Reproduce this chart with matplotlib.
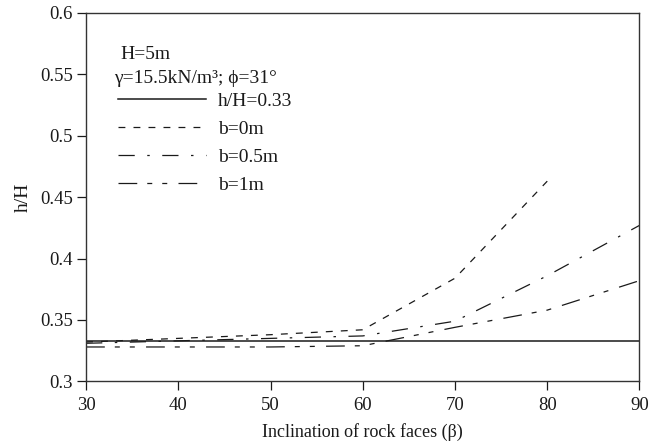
import matplotlib
matplotlib.use("Agg")
import matplotlib.pyplot as plt

# Inclination of the rock face (degrees)
beta = [30, 40, 50, 60, 70, 80, 90]
beta_b0 = [30, 40, 50, 60, 70, 80]

# Reference ratio h/H
h_ratio = 0.333

# h/H for different berm widths b
h_b0 = [0.332, 0.335, 0.338, 0.342, 0.384, 0.463]
h_b05 = [0.331, 0.333, 0.335, 0.337, 0.349, 0.386, 0.427]
h_b1 = [0.328, 0.328, 0.328, 0.329, 0.344, 0.358, 0.382]

x_ticks = [30, 40, 50, 60, 70, 80, 90]
y_ticks = [0.3, 0.35, 0.4, 0.45, 0.5, 0.55, 0.6]

FONT = ["Liberation Serif", "DejaVu Serif"]
plt.rcParams["font.family"] = FONT
plt.rcParams["font.size"] = 13.5

fig = plt.figure(figsize=(6.62, 4.45), dpi=100)
ax = fig.add_axes([0.130, 0.143, 0.836, 0.828])

ink = "#1a1a1a"
lw = 0.9

ax.plot([x_ticks[0], x_ticks[-1]], [h_ratio, h_ratio], color=ink, lw=1.1,
        label=f"h/H={h_ratio:.2f}")
ax.plot(beta_b0, h_b0, color=ink, lw=lw, dashes=(5.5, 6.5), label="b=0m")
ax.plot(beta, h_b05, color=ink, lw=lw, dashes=(13, 10, 2, 10), label="b=0.5m")
ax.plot(beta, h_b1, color=ink, lw=lw, dashes=(15, 8, 4, 8, 4, 9), label="b=1m")

ax.set_xlim(30, 90)
ax.set_ylim(0.3, 0.6)
ax.set_xticks(x_ticks)
ax.set_xticklabels([str(v) for v in x_ticks])
ax.set_yticks(y_ticks)
ax.set_yticklabels([f"{v:g}" for v in y_ticks])
ax.tick_params(direction="out", length=6.5, width=0.9, colors=ink, labelsize=13.5)
ax.tick_params(axis="x", pad=5)
ax.tick_params(axis="y", pad=3)

for s in ax.spines.values():
    s.set_color("#333333")
    s.set_linewidth(1.0)

ax.set_xlabel("Inclination of rock faces (\u03b2)", fontsize=13, color=ink, labelpad=6)
ax.set_ylabel("h/H", fontsize=14, color=ink, labelpad=6)

ax.text(0.0614, 0.888, "H=5m", transform=ax.transAxes, va="center", ha="left",
        fontsize=14, color=ink)
ax.text(0.0506, 0.821, "\u03b3=15.5kN/m\u00b3; \u03d5=31\u00b0", transform=ax.transAxes,
        va="center", ha="left", fontsize=14, color=ink)

leg = ax.legend(loc="upper left", bbox_to_anchor=(0.058, 0.785), frameon=False,
                borderpad=0, borderaxespad=0, handlelength=4.5, handletextpad=0.62,
                labelspacing=0.54, fontsize=14)
for t in leg.get_texts():
    t.set_color(ink)

fig.savefig("out.png", dpi=100)
